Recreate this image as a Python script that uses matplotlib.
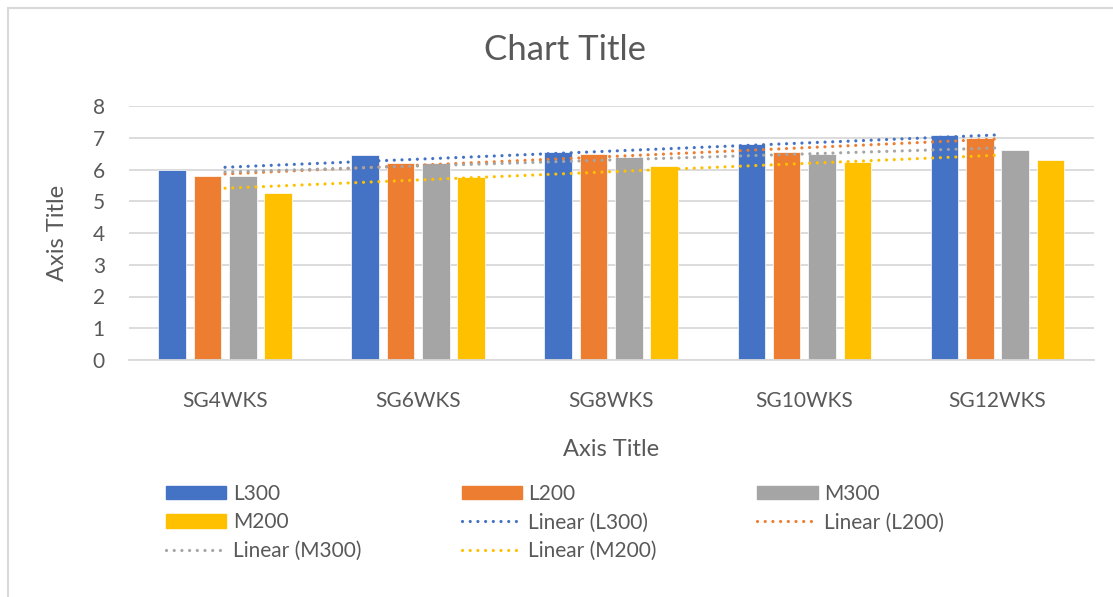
import matplotlib
matplotlib.use("Agg")
import matplotlib.pyplot as plt
import numpy as np
from matplotlib.patches import Patch, Rectangle
from matplotlib.lines import Line2D

# ---- data ----
categories = ['SG4WKS', 'SG6WKS', 'SG8WKS', 'SG10WKS', 'SG12WKS']
series_names = ['L300', 'L200', 'M300', 'M200']
L300 = [6.0, 6.45, 6.55, 6.8, 7.1]
L200 = [5.8, 6.2, 6.5, 6.55, 7.0]
M300 = [5.8, 6.2, 6.4, 6.5, 6.6]
M200 = [5.25, 5.75, 6.1, 6.25, 6.3]
y_ticks = [0, 1, 2, 3, 4, 5, 6, 7, 8]
title = 'Chart Title'
x_title = 'Axis Title'
y_title = 'Axis Title'

# ---- style ----
colors = ['#4472C4', '#ED7D31', '#A5A5A5', '#FFC000']
text_color = '#595959'
grid_color = '#D9D9D9'
plt.rcParams['font.family'] = ['Lato', 'DejaVu Sans']

W, H = 1113, 597
fig = plt.figure(figsize=(W / 100, H / 100), dpi=100)
fig.patch.set_facecolor('white')

def fx(px):
    return px / W

def fy(py):
    return 1 - py / H

# chart border
fig.add_artist(Rectangle((fx(8), -0.1), 1.2, fy(8) + 0.1, transform=fig.transFigure,
                         fill=False, edgecolor=grid_color, lw=1.5))

ax_left, ax_right, ax_top, ax_bot = 128.5, 1094, 106, 360
ax = fig.add_axes([fx(ax_left), fy(ax_bot), fx(ax_right - ax_left), (ax_bot - ax_top) / H])

series = [L300, L200, M300, M200]
x = np.arange(len(categories))
step = 0.183
width = 0.143
offsets = (np.arange(len(series)) - 1.5) * step
bar_handles = []
for i, (vals, name) in enumerate(zip(series, series_names)):
    ax.bar(x + offsets[i], vals, width, color=colors[i], edgecolor='white',
           linewidth=0.5, label=name, zorder=2)
    bar_handles.append(Patch(facecolor=colors[i], edgecolor=colors[i], label=name))

trend_handles = []
for i, (vals, name) in enumerate(zip(series, series_names)):
    k, b0 = np.polyfit(x, vals, 1)
    ax.plot(x, k * x + b0, color=colors[i], lw=2.3, linestyle=(0, (0.01, 2.4)),
            dash_capstyle='round', zorder=3)
    trend_handles.append(Line2D([], [], color=colors[i], lw=2.3, linestyle=(0, (0.01, 2.4)),
                                dash_capstyle='round', label=f'Linear ({name})'))

ax.set_xlim(-0.5, len(categories) - 0.5)
ax.set_ylim(0, 8)
ax.set_yticks(y_ticks)
ax.set_xticks(x)
ax.set_xticklabels(categories)
ax.yaxis.grid(True, color=grid_color, lw=1.3, zorder=0)
ax.set_axisbelow(True)
for s in ['top', 'right', 'left']:
    ax.spines[s].set_visible(False)
ax.spines['bottom'].set_color(grid_color)
ax.spines['bottom'].set_linewidth(1.3)
ax.tick_params(axis='both', length=0, labelsize=15, labelcolor=text_color)
ax.tick_params(axis='y', pad=17)
ax.tick_params(axis='x', pad=22)
ax.set_facecolor('none')

fig.text(fx(565), fy(50), title, ha='center', va='center', fontsize=25, color=text_color)
fig.text(fx(611), fy(450), x_title, ha='center', va='center', fontsize=17, color=text_color)
fig.text(fx(58), fy(233), y_title, ha='center', va='center', fontsize=17, color=text_color,
         rotation=90)

# legend (row-major order reproduced with column-major fill)
allh = bar_handles + trend_handles  # L300 L200 M300 M200 LinL300 LinL200 LinM300 LinM200
order = [0, 3, 6, 1, 4, 7, 2, 5]
hs = [allh[i] for i in order]
fig.legend(handles=hs, labels=[h.get_label() for h in hs], ncol=3, loc='upper left',
           bbox_to_anchor=(fx(166), fy(490), fx(944 - 166), 0.01), mode='expand',
           frameon=False, fontsize=15, labelcolor=text_color, handlelength=2.9,
           handleheight=0.6, handletextpad=0.3, labelspacing=0.4, borderaxespad=0,
           borderpad=0)

fig.savefig('out.png', dpi=100)
